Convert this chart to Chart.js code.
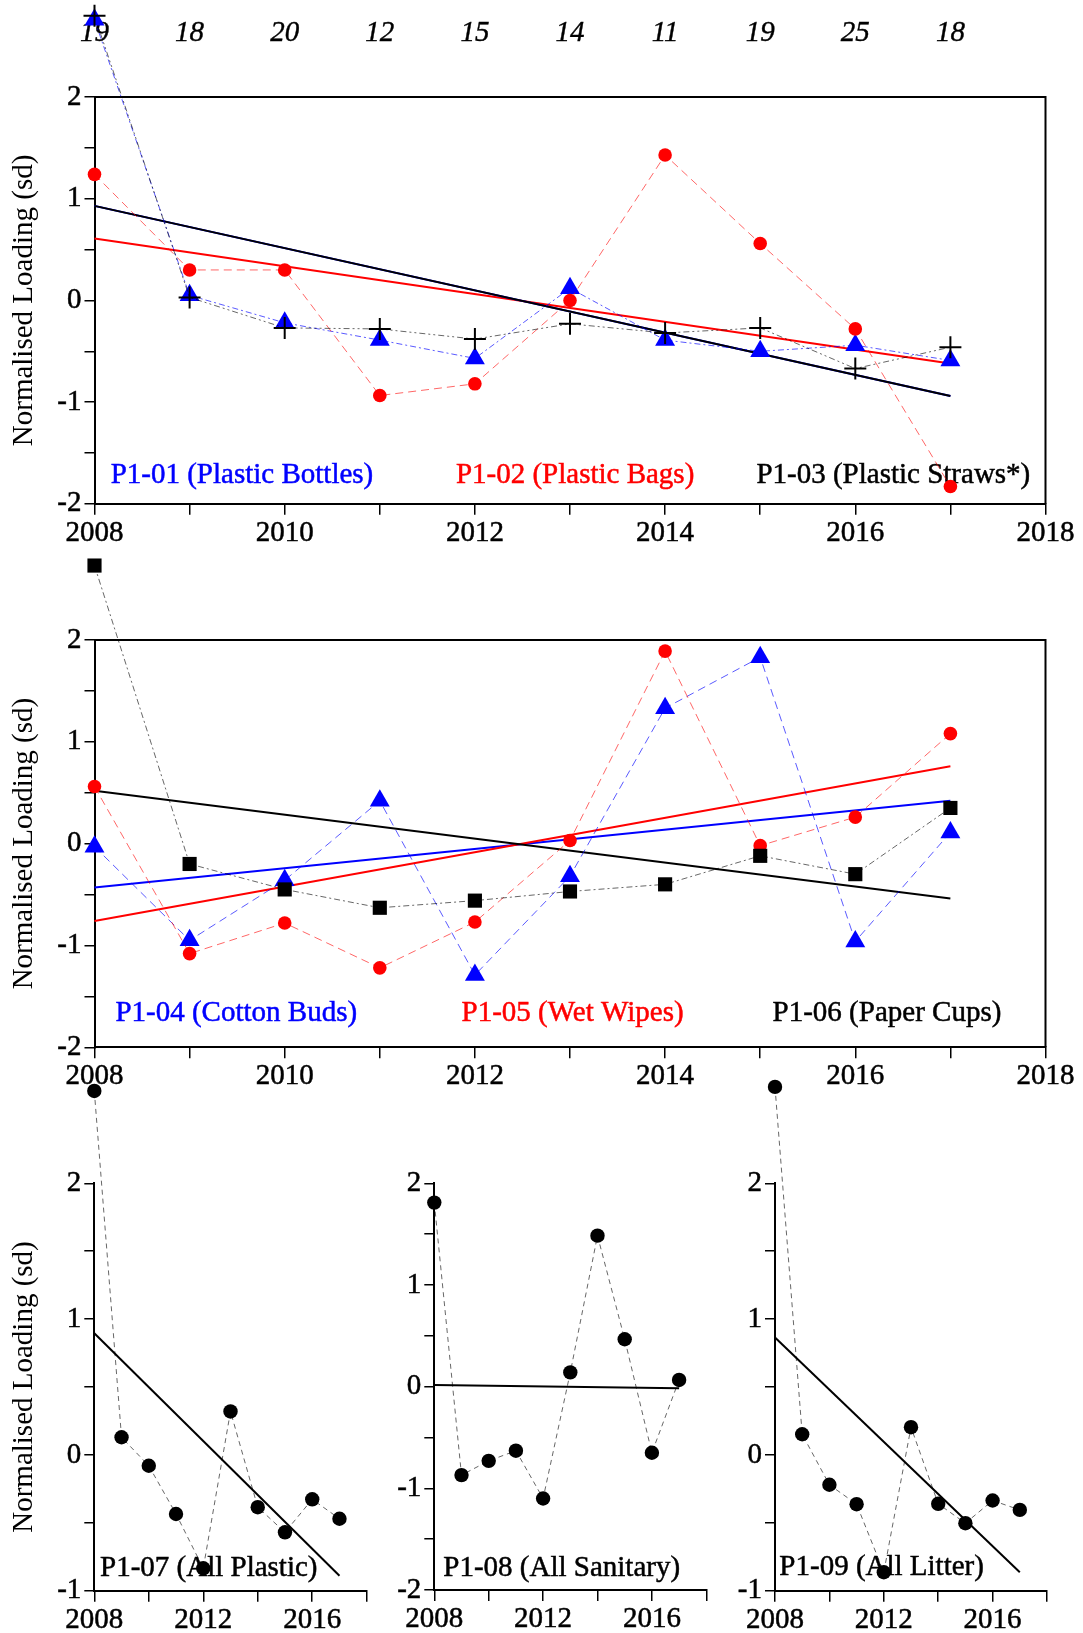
<!DOCTYPE html>
<html lang="en">
<head>
    <meta charset="UTF-8">
    <title>Normalised Loading</title>
    <style>
        body {margin: 0; background: #fff; width: 1083px; height: 1633px; position: relative; overflow: hidden;
              font-family: "Liberation Serif", "Tinos", "Times New Roman", "DejaVu Serif", serif;}
        canvas {position: absolute;}
        .probe {position: absolute; left: -500px; top: 0; font-size: 29px;}
    </style>
</head>
<body>
    <span class="probe">2008 P1-01</span><span class="probe" style="font-style:italic">19 18</span>
    <canvas id="c1" width="1083" height="545" style="left:0;top:0"></canvas>
    <canvas id="c2" width="1083" height="545" style="left:0;top:545px"></canvas>
    <canvas id="c7" width="380" height="558" style="left:0;top:1075px"></canvas>
    <canvas id="c8" width="340" height="558" style="left:380px;top:1075px"></canvas>
    <canvas id="c9" width="363" height="558" style="left:720px;top:1075px"></canvas>

    <script src="https://cdn.jsdelivr.net/npm/chart.js@4.4.1/dist/chart.umd.min.js"></script>
    <script>
        const SERIF = '"Liberation Serif", "Tinos", "Times New Roman", "DejaVu Serif", serif';
        const FS = 29;

        // years and the numbers printed above the top panel
        const years = [2008, 2009, 2010, 2011, 2012, 2013, 2014, 2015, 2016, 2017];
        const sampleCounts = [19, 18, 20, 12, 15, 14, 11, 19, 25, 18];
        const trendYears = [2008, 2017];

        // top panel
        const bottles = [2.76, 0.05, -0.22, -0.39, -0.57, 0.12, -0.39, -0.50, -0.44, -0.59];
        const bags    = [1.24, 0.30, 0.30, -0.935, -0.82, 0.00, 1.43, 0.56, -0.28, -1.83];
        const straws  = [2.80, 0.03, -0.27, -0.28, -0.38, -0.23, -0.32, -0.27, -0.67, -0.46];
        const bottlesTrend = [0.93, -0.94];
        const bagsTrend    = [0.61, -0.62];
        const strawsTrend  = [0.93, -0.94];

        // middle panel
        const cottonBuds = [-0.03, -0.95, -0.36, 0.42, -1.29, -0.32, 1.33, 1.83, -0.96, 0.11];
        const wetWipes   = [0.56, -1.08, -0.78, -1.22, -0.77, 0.03, 1.89, -0.02, 0.26, 1.08];
        const paperCups  = [2.73, -0.20, -0.45, -0.63, -0.56, -0.47, -0.40, -0.12, -0.30, 0.35];
        const cottonTrend = [-0.43, 0.42];
        const wipesTrend  = [-0.76, 0.76];
        const cupsTrend   = [0.52, -0.54];

        // bottom panels
        const allPlastic  = [2.68, 0.13, -0.08, -0.435, -0.835, 0.32, -0.385, -0.57, -0.327, -0.47];
        const allSanitary = [1.81, -0.87, -0.73, -0.63, -1.10, 0.14, 1.485, 0.466, -0.65, 0.066];
        const allLitter   = [2.71, 0.152, -0.22, -0.363, -0.864, 0.204, -0.36, -0.503, -0.336, -0.405];
        const plasticTrend  = [0.896, -0.89];
        const sanitaryTrend = [0.016, -0.016];
        const litterTrend   = [0.864, -0.864];

        const BLUE = '#0000ff', RED = '#ff0000', BLACK = '#000000';
        const LINE = {[BLUE]: 'rgba(0,0,255,0.65)', [RED]: 'rgba(255,0,0,0.6)', [BLACK]: 'rgba(0,0,0,0.6)'};

        Chart.defaults.font.family = SERIF;

        const pts = (xs, ys) => xs.map((x, i) => ({x: x, y: ys[i]}));

        function series(values, color, style, radius, dash) {
            return {
                data: pts(years, values),
                borderColor: LINE[color],
                borderWidth: 1,
                borderDash: dash,
                pointStyle: style,
                pointRadius: radius,
                pointBackgroundColor: color,
                pointBorderColor: color,
                pointBorderWidth: style === 'cross' ? 2 : 0,
                clip: false
            };
        }

        function trend(values, color) {
            return {data: pts(trendYears, values), borderColor: color, borderWidth: 2, pointRadius: 0, clip: false};
        }

        // panel captions, drawn under the points
        const notesPlugin = {
            id: 'notes',
            beforeDatasetsDraw(chart, args, opts) {
                const {ctx, scales} = chart;
                ctx.save();
                ctx.font = FS + 'px ' + SERIF;
                ctx.textBaseline = 'middle';
                ctx.textAlign = 'left';
                ctx.lineWidth = 0.5;
                (opts.items || []).forEach(n => {
                    const px = scales.x.getPixelForValue(n.x), py = scales.y.getPixelForValue(n.y);
                    ctx.fillStyle = n.color;
                    ctx.strokeStyle = n.color;
                    ctx.fillText(n.text, px, py);
                    ctx.strokeText(n.text, px, py);
                });
                ctx.restore();
            }
        };

        // top and right border for the boxed panels
        const framePlugin = {
            id: 'frame',
            beforeDatasetsDraw(chart, args, opts) {
                if (!opts.on) return;
                const {ctx, chartArea: c} = chart;
                ctx.save();
                ctx.strokeStyle = '#000';
                ctx.lineWidth = 2;
                ctx.beginPath();
                ctx.moveTo(c.left, c.top);
                ctx.lineTo(c.right, c.top);
                ctx.lineTo(c.right, c.bottom);
                ctx.stroke();
                ctx.restore();
            }
        };

        // chart.js skips points outside the chart area, the 2008 values sit above it
        const outlierPlugin = {
            id: 'outliers',
            afterDatasetsDraw(chart) {
                const c = chart.chartArea;
                const wide = {left: -1e4, top: -1e4, right: 1e4, bottom: 1e4};
                const metas = chart.getSortedVisibleDatasetMetas();
                for (let i = metas.length - 1; i >= 0; i--) {
                    metas[i].data.forEach(pt => {
                        if (pt.y < c.top - 2 || pt.y > c.bottom + 2) pt.draw(chart.ctx, wide);
                    });
                }
            }
        };

        function makeChart(id, cfg) {
            const cv = document.getElementById(id);
            const W = cv.width, H = cv.height;
            const a = cfg.area;
            const tickFont = {family: SERIF, size: FS, lineHeight: 1};

            const scales = {
                x: {
                    type: 'linear', min: 2008, max: 2018,
                    afterFit: s => { s.height = H - a.b; },
                    ticks: {
                        stepSize: cfg.xStep, autoSkip: false, maxRotation: 0, padding: 4,
                        color: '#000', font: tickFont, textStrokeColor: '#000', textStrokeWidth: 0.5,
                        callback: v => v % cfg.xEvery === 0 ? String(v) : ''
                    },
                    grid: {drawOnChartArea: false, tickLength: 11, color: '#000', lineWidth: 1.5},
                    border: {color: '#000', width: 2}
                },
                y: {
                    type: 'linear', min: cfg.yMin, max: cfg.yMax,
                    afterFit: s => { s.width = a.l; },
                    ticks: {
                        stepSize: 0.5, autoSkip: false, padding: 3,
                        color: '#000', font: tickFont, textStrokeColor: '#000', textStrokeWidth: 0.5,
                        callback: v => Number.isInteger(v) ? String(v) : ''
                    },
                    grid: {drawOnChartArea: false, tickLength: 10, color: '#000', lineWidth: 1.5},
                    border: {color: '#000', width: 2},
                    title: {
                        display: !!cfg.yTitle, text: 'Normalised Loading (sd)', color: '#000',
                        font: {family: SERIF, size: FS, lineHeight: 1}, padding: {top: 9.5, bottom: 0}
                    }
                }
            };

            if (cfg.topCounts) {
                // hidden tick marks give the gap above the box without adding side padding
                scales.x2 = {
                    type: 'linear', position: 'top', min: 2008, max: 2018,
                    afterFit: s => { s.height = a.t; },
                    ticks: {
                        stepSize: 1, autoSkip: false, maxRotation: 0, padding: 0,
                        color: '#000', font: {family: SERIF, size: FS, style: 'italic', lineHeight: 1},
                        textStrokeColor: '#000', textStrokeWidth: 0.4,
                        callback: v => {
                            const i = years.indexOf(v);
                            return i < 0 ? '' : String(sampleCounts[i]);
                        }
                    },
                    grid: {display: false, drawTicks: true, tickLength: 49},
                    border: {display: false}
                };
            }

            return new Chart(cv, {
                type: 'line',
                data: {datasets: cfg.datasets},
                options: {
                    responsive: false,
                    animation: false,
                    events: [],
                    layout: {padding: {left: 0, right: W - a.r, top: cfg.topCounts ? 0 : a.t, bottom: 0}},
                    plugins: {
                        legend: {display: false},
                        tooltip: {enabled: false},
                        notes: {items: cfg.notes},
                        frame: {on: !!cfg.frame}
                    },
                    scales: scales
                },
                plugins: [notesPlugin, framePlugin, outlierPlugin]
            });
        }

        function drawAll() {
            // P1-01 .. P1-03
            makeChart('c1', {
                area: {l: 94.5, r: 1045.5, t: 97.1, b: 503.8},
                yMin: -2, yMax: 2, xStep: 1, xEvery: 2, yTitle: true, topCounts: true, frame: true,
                datasets: [
                    series(straws, BLACK, 'cross', 11, [6, 3, 2, 3, 2, 3]),
                    series(bags, RED, 'circle', 6.8, [8, 5]),
                    series(bottles, BLUE, 'triangle', 11.5, [6, 3, 2, 3]),
                    trend(strawsTrend, BLACK),
                    trend(bottlesTrend, BLUE),
                    trend(bagsTrend, RED)
                ],
                notes: [
                    {text: 'P1-01 (Plastic Bottles)', color: BLUE, x: 2008.17, y: -1.72},
                    {text: 'P1-02 (Plastic Bags)', color: RED, x: 2011.80, y: -1.72},
                    {text: 'P1-03 (Plastic Straws*)', color: BLACK, x: 2014.96, y: -1.72}
                ]
            });

            // P1-04 .. P1-06
            makeChart('c2', {
                area: {l: 94.5, r: 1045.5, t: 94.9, b: 502.3},
                yMin: -2, yMax: 2, xStep: 1, xEvery: 2, yTitle: true, frame: true,
                datasets: [
                    series(paperCups, BLACK, 'rect', 10, [6, 3, 2, 3]),
                    series(wetWipes, RED, 'circle', 6.8, [8, 5]),
                    series(cottonBuds, BLUE, 'triangle', 11.5, [8, 5]),
                    trend(cupsTrend, BLACK),
                    trend(wipesTrend, RED),
                    trend(cottonTrend, BLUE)
                ],
                notes: [
                    {text: 'P1-04 (Cotton Buds)', color: BLUE, x: 2008.22, y: -1.666},
                    {text: 'P1-05 (Wet Wipes)', color: RED, x: 2011.86, y: -1.666},
                    {text: 'P1-06 (Paper Cups)', color: BLACK, x: 2015.13, y: -1.666}
                ]
            });

            // P1-07
            makeChart('c7', {
                area: {l: 94.3, r: 366.7, t: 108.3, b: 515.7},
                yMin: -1, yMax: 2, xStep: 2, xEvery: 4, yTitle: true,
                datasets: [
                    series(allPlastic, BLACK, 'circle', 7.2, [5, 4]),
                    trend(plasticTrend, BLACK)
                ],
                notes: [{text: 'P1-07 (All Plastic)', color: BLACK, x: 2008.21, y: -0.834}]
            });

            // P1-08
            makeChart('c8', {
                area: {l: 54.3, r: 326.3, t: 108.3, b: 515},
                yMin: -2, yMax: 2, xStep: 2, xEvery: 4,
                datasets: [
                    series(allSanitary, BLACK, 'circle', 7.2, [5, 4]),
                    trend(sanitaryTrend, BLACK)
                ],
                notes: [{text: 'P1-08 (All Sanitary)', color: BLACK, x: 2008.33, y: -1.783}]
            });

            // P1-09
            makeChart('c9', {
                area: {l: 55, r: 327, t: 108.3, b: 515.7},
                yMin: -1, yMax: 2, xStep: 2, xEvery: 4,
                datasets: [
                    series(allLitter, BLACK, 'circle', 7.2, [5, 4]),
                    trend(litterTrend, BLACK)
                ],
                notes: [{text: 'P1-09 (All Litter)', color: BLACK, x: 2008.16, y: -0.832}]
            });
        }

        // make sure the serif face is ready before the canvases use it
        Promise.all([
            document.fonts.load(FS + 'px "Liberation Serif"'),
            document.fonts.load('italic ' + FS + 'px "Liberation Serif"')
        ]).then(drawAll, drawAll);
    </script>
</body>
</html>
